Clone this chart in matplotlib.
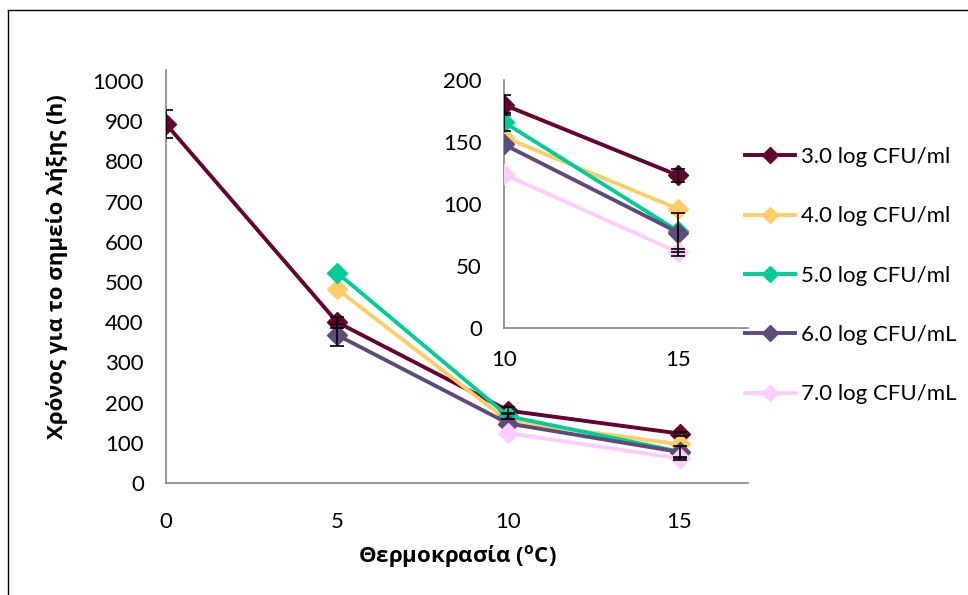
import numpy as np
import matplotlib
matplotlib.use("Agg")
import matplotlib.pyplot as plt
from matplotlib.lines import Line2D

plt.rcParams['font.family'] = ['Lato', 'Open Sans', 'DejaVu Sans']
plt.rcParams['mathtext.fontset'] = 'custom'
plt.rcParams['mathtext.rm'] = 'Open Sans'
plt.rcParams['mathtext.bf'] = 'Open Sans:bold'

# ---------------- data ----------------
temps = [0, 5, 10, 15]
labels = ["3.0 log CFU/ml", "4.0 log CFU/ml", "5.0 log CFU/ml",
          "6.0 log CFU/mL", "7.0 log CFU/mL"]
s30 = [893, 400, 180, 123]
s40 = [np.nan, 482, 154, 96]
s50 = [np.nan, 523, 166, 78]
s60 = [np.nan, 368, 148, 77]
s70 = [np.nan, np.nan, 124, 61]
e30 = [35, 14, 8, 5]
e40 = [0, 0, 0, 0]
e50 = [0, 0, 7, 0]
e60 = [0, 27, 0, 16]
e70 = [0, 0, 0, 3]
series = [s30, s40, s50, s60, s70]
errors = [e30, e40, e50, e60, e70]
colors = ["#660033", "#FFCC66", "#00CC99", "#604A7B", "#FFCCFF"]

main_yticks = [0, 100, 200, 300, 400, 500, 600, 700, 800, 900, 1000]
main_xticks = [0, 5, 10, 15]
inset_yticks = [0, 50, 100, 150, 200]
inset_xticks = [10, 15]

W, H = 968, 595
fig = plt.figure(figsize=(W / 100, H / 100), dpi=100)

def fx(px):
    return px / W

def fy(py):
    return 1 - py / H

ax = fig.add_axes([fx(166), fy(483), fx(748) - fx(166), fy(70) - fy(483)])
ins = fig.add_axes([fx(504), fy(328), fx(748) - fx(504), fy(80) - fy(328)])

spine_col = "#868686"

def draw(a, mask_from):
    for vals, errs, c, lab in zip(series, errors, colors, labels):
        x = np.array(temps, dtype=float)
        y = np.array(vals, dtype=float)
        e = np.array(errs, dtype=float)
        m = (x >= mask_from) & ~np.isnan(y)
        a.plot(x[m], y[m], color=c, lw=2.8, marker='D', ms=10,
               markeredgecolor=c, label=lab, zorder=3)
        me = m & (e > 0)
        if me.any():
            a.errorbar(x[me], y[me], yerr=e[me], fmt='none', ecolor='black',
                       elinewidth=1.2, capsize=4.7, capthick=1.2, zorder=4)
    for s in ['top', 'right']:
        a.spines[s].set_visible(False)
    for s in ['left', 'bottom']:
        a.spines[s].set_color(spine_col)
        a.spines[s].set_linewidth(1.2)
    a.tick_params(length=0, labelsize=16)

draw(ax, 0)
ax.set_xlim(0, 17)
# axis line runs a little above the top tick, as in the reference
ax.set_ylim(0, 1000 * (483 - 70) / (483 - 81))
ax.set_xticks(main_xticks)
ax.set_yticks(main_yticks)
ax.tick_params(axis='y', pad=16)
ax.tick_params(axis='x', pad=21)
ax.set_facecolor('none')

draw(ins, 10)
ins.set_xlim(10, 17)
ins.set_ylim(0, 200)
ins.set_xticks(inset_xticks)
ins.set_yticks(inset_yticks)
ins.tick_params(axis='y', pad=16)
ins.tick_params(axis='x', pad=16)
ins.set_facecolor('none')

fig.text(fx(57), fy(267), "Χρόνος για το σημείο λήξης (h)", rotation=90,
         ha='center', va='center', fontsize=16, fontweight='bold',
         family=['Open Sans', 'DejaVu Sans'])
fig.text(fx(457), fy(557), r"Θερμοκρασία ($^{\mathbf{o}}$C)",
         ha='center', va='center', fontsize=16, fontweight='bold',
         family=['Open Sans', 'DejaVu Sans'])

handles, labs = ax.get_legend_handles_labels()
leg = fig.legend(handles, labs, loc='upper left',
                 bbox_to_anchor=(fx(745), fy(147)), frameon=False,
                 fontsize=16, handlelength=2.25, handletextpad=0.25,
                 labelspacing=1.77, markerscale=0.85, borderaxespad=0,
                 borderpad=0)

# outer chart border (only top and left visible)
fig.add_artist(Line2D([fx(8), 1], [fy(10), fy(10)], color='black', lw=1.0))
fig.add_artist(Line2D([fx(8), fx(8)], [fy(10), 0], color='black', lw=1.0))

fig.savefig("out.png", dpi=100)
